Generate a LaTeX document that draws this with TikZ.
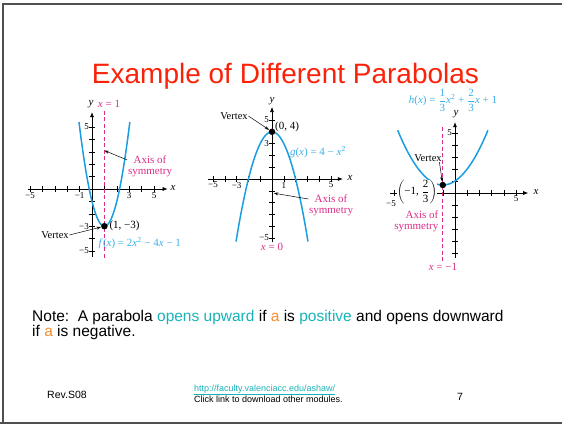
\documentclass[tikz,border=0pt]{standalone}
\usepackage{fontspec}
\setmainfont{Liberation Serif}
\setsansfont{Liberation Sans}
\usetikzlibrary{arrows.meta,positioning}
\definecolor{titlered}{RGB}{250,35,10}
\definecolor{curveblue}{RGB}{25,158,225}
\definecolor{eqblue}{RGB}{60,175,235}
\definecolor{axispink}{RGB}{220,45,135}
\definecolor{noteteal}{RGB}{25,178,185}
\definecolor{notea}{RGB}{250,140,45}
\definecolor{framegray}{RGB}{80,80,80}
\newcommand{\vx}{\textit{x}}
\newcommand{\tfr}[2]{$\displaystyle\frac{\mbox{#1}}{\mbox{#2}}$}
\begin{document}
\begin{tikzpicture}[x=1pt, y=-1pt,
    slidetext/.style={font=\sffamily\fontsize{15.5}{18}\selectfont, inner sep=0pt, anchor=base west},
    foottext/.style={font=\sffamily\fontsize{9}{10}\selectfont, inner sep=0pt, anchor=base west},
    lbl/.style={font=\fontsize{11}{11.5}\selectfont, inner sep=0.5pt},
    ticklbl/.style={font=\fontsize{9}{9}\selectfont, inner sep=0.5pt},
    axisline/.style={-{Latex[length=5pt,width=4pt]}, line width=0.6pt},
    ticks/.style={line width=0.5pt},
    curve/.style={draw=curveblue, line width=1.5pt},
    symline/.style={draw=axispink, line width=0.8pt, dash pattern=on 4pt off 2.5pt},
    pointer/.style={-{Stealth[length=4.5pt,width=3pt]}, line width=0.5pt},
    vdot/.style={circle, fill=black, inner sep=0pt, minimum size=6.5pt},
  ]
  \useasboundingbox (0,0) rectangle (562,424);
  % slide frame
  \draw[framegray, line width=2pt] (3,424) -- (3,4) -- (566,4);
  \draw[framegray, line width=2pt] (0,422.5) -- (566,422.5);

  \node[font=\sffamily\fontsize{28}{30}\selectfont, text=titlered, anchor=base, inner sep=0pt]
    (title) at (285.5,83) {Example of Different Parabolas};

  % f(x) = 2x^2 - 4x - 1
  \begin{scope}[shift={(92,189)}, x=12.4pt, y=12.4pt]
    \draw[axisline] (-5.2,0) -- (6.1,0);
    \draw[axisline] (0,-5.5) -- (0,6.2);
    \foreach \t in {-5,...,5} \draw[ticks] (\t,-0.25) -- (\t,0.25);
    \foreach \t in {-5,...,5} \draw[ticks] (-0.25,\t) -- (0.25,\t);
    \foreach \t/\s in {-5/−5,-1/−1,3/3,5/5} \node[ticklbl, below] at (\t,-0.2) {\s};
    \foreach \t/\s in {5/5,-3/−3,-5/−5} \node[ticklbl, left] at (-0.2,\t) {\s};
    \draw[symline] (1,6.3) -- (1,-5.6);
    \draw[curve] plot[domain=-1.05:3.05, samples=60] (\x,{2*\x*\x-4*\x-1});
    \node[vdot] (fvtx) at (1,-3) {};
    \coordinate (faxis) at (1,3.1);
  \end{scope}
  \node[lbl] (fylbl) at (91,104) {\textit{y}};
  \node[lbl] (fxlbl) at (173,188) {\vx};
  \node[lbl, text=axispink] (fline) at (109,104) {\vx{} = 1};
  \node[lbl, right=1pt of fvtx] (fpt) {(1, −3)};
  \node[lbl, font=\fontsize{10.5}{11}\selectfont] (fvlbl) at (55,235) {Vertex};
  \draw[pointer] (fvlbl.east) -- (fvtx);
  \node[lbl, text=eqblue, anchor=west] (feq) at (98,243) {\textit{f}(\vx) = 2\vx\textsuperscript{2} − 4\vx{} − 1};
  \node[lbl, text=axispink, align=center, anchor=north] (fax) at (150,155) {Axis of\\symmetry};
  \draw[pointer] ([yshift=-5pt]fax.north west) -- (faxis);

  % g(x) = 4 - x^2
  \begin{scope}[shift={(272,179)}, x=11.8pt, y=11.8pt]
    \draw[axisline] (-5.4,0) -- (6,0);
    \draw[axisline] (0,-5.3) -- (0,6.1);
    \foreach \t in {-5,...,5} \draw[ticks] (\t,-0.25) -- (\t,0.25);
    \foreach \t in {-5,...,5} \draw[ticks] (-0.25,\t) -- (0.25,\t);
    \foreach \t/\s in {-5/−5,-3/−3,1/1,5/5} \node[ticklbl, below] at (\t,-0.2) {\s};
    \foreach \t/\s in {5/5,3/3,-5/−5} \node[ticklbl, left] at (-0.2,\t) {\s};
    \draw[curve] plot[domain=-3.05:3.05, samples=60] (\x,{4-\x*\x});
    \node[vdot] (gvtx) at (0,4) {};
    \coordinate (gaxis) at (0.15,-1.2);
  \end{scope}
  \node[lbl] (gylbl) at (272,101) {\textit{y}};
  \node[lbl] (gxlbl) at (350,178) {\vx};
  \node[lbl, above right=-3pt and 0pt of gvtx] (gpt) {(0, 4)};
  \node[lbl, font=\fontsize{10.5}{11}\selectfont] (gvlbl) at (234,116) {Vertex};
  \draw[pointer] (gvlbl.east) -- (gvtx);
  \node[lbl, text=eqblue] (geq) at (318,152) {\textit{g}(\vx) = 4 − \vx\textsuperscript{2}};
  \node[lbl, text=axispink, align=center, anchor=north] (gax) at (331,194) {Axis of\\symmetry};
  \draw[pointer] ([yshift=-5pt]gax.north west) -- (gaxis);
  \node[lbl, text=axispink] (gline) at (272,247) {\vx{} = 0};

  % h(x) = 1/3 x^2 + 2/3 x + 1
  \begin{scope}[shift={(455,193)}, x=12.2pt, y=12pt]
    \draw[axisline] (-5.3,0) -- (6,0);
    \draw[axisline] (0,-5.4) -- (0,5.9);
    \foreach \t in {-5,...,5} \draw[ticks] (\t,-0.25) -- (\t,0.25);
    \foreach \t in {-5,...,5} \draw[ticks] (-0.25,\t) -- (0.25,\t);
    \node[ticklbl, below] at (5,-0.2) {5};
    \node[ticklbl, left] at (-0.2,5) {5};
    \draw[symline] (-1,5.5) -- (-1,-5.75);
    \draw[curve] plot[domain=-4.7:2.7, samples=60] (\x,{\x*\x/3+2*\x/3+1});
    \node[vdot] (hvtx) at (-1,2/3) {};
  \end{scope}
  \node[lbl] (hylbl) at (456,114) {\textit{y}};
  \node[lbl] (hxlbl) at (536,192) {\vx};
  \node[lbl, text=eqblue] (heq) at (453,100) {\textit{h}(\vx) = \tfr{1}{3}\vx\textsuperscript{2} + \tfr{2}{3}\vx{} + 1};
  \node[lbl, font=\fontsize{10.5}{11}\selectfont] (hvlbl) at (428,158) {Vertex};
  \draw[pointer] ([xshift=-3pt]hvlbl.south east) -- (hvtx);
  \node[lbl, fill=white, inner sep=0pt] (hpt) at (417,192) {$\displaystyle\left(\mbox{−1,\ }\frac{\mbox{2}}{\mbox{3}}\right)$};
  \node[ticklbl] (hfive) at (391,204) {−5};
  \node[lbl, text=axispink, align=right, anchor=north east] (hax) at (439,210) {Axis of\\symmetry};
  \node[lbl, text=axispink] (hline) at (443,267) {\vx{} = −1};

  % note and footer
  \node[slidetext] (note1) at (32,321.7) {Note:\ \ A parabola \textcolor{noteteal}{opens upward} if \textcolor{notea}{a} is \textcolor{noteteal}{positive} and opens downward};
  \node[slidetext] (note2) at (32,336.7) {if \textcolor{notea}{a} is negative.};
  \node[foottext, font=\sffamily\fontsize{10.5}{12}\selectfont] (rev) at (47,398) {Rev.S08};
  \node[foottext, text=noteteal] (url) at (194,391) {\underline{http://faculty.valenciacc.edu/ashaw/}};
  \node[foottext] (click) at (194,402) {Click link to download other modules.};
  \node[foottext, font=\sffamily\fontsize{10.5}{12}\selectfont] (page) at (457,400) {7};
\end{tikzpicture}
\end{document}
